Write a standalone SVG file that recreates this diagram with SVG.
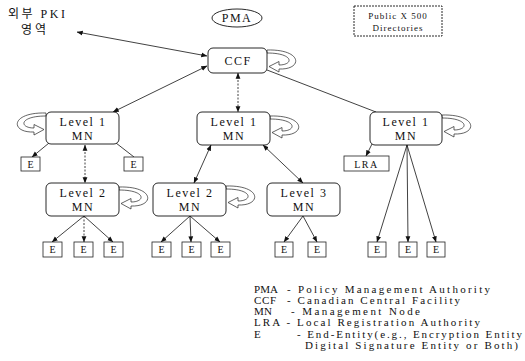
<svg xmlns="http://www.w3.org/2000/svg" width="525" height="361" viewBox="0 0 525 361">
<style>
.t{font-family:"Liberation Serif","Noto Sans CJK KR",serif;fill:#111;}
.n{font-size:12px;letter-spacing:1.5px;text-anchor:middle;}
.e{font-size:10px;text-anchor:middle;}
.lg{font-size:11px;}
.box{fill:#fff;stroke:#111;stroke-width:0.9;}
.eb{fill:#fff;stroke:#222;stroke-width:0.8;}
.c{stroke:#111;stroke-width:0.8;fill:none;}
.d{stroke-dasharray:2,1.5;}
.loop{fill:#fff;stroke:#222;stroke-width:0.7;}
</style>
<defs>
<marker id="a" viewBox="0 0 10 10" refX="9.5" refY="5" markerWidth="6" markerHeight="6" markerUnits="userSpaceOnUse" orient="auto-start-reverse">
<path d="M0,1 L10,5 L0,9 z" fill="#111"/>
</marker>
<path id="lp" d="M0,0 C36,-1 36,20 12,19 L12,22 L2,16.5 L12,11.5 L12,15 C27,15 27,3 0,3 Z"/>
</defs>
<rect width="525" height="361" fill="#fff"/>

<g id="connectors">
<line class="c" x1="207" y1="56" x2="77" y2="32" marker-start="url(#a)" marker-end="url(#a)"/>
<line class="c" x1="207" y1="66" x2="113" y2="112" marker-start="url(#a)" marker-end="url(#a)"/>
<line class="c d" x1="238" y1="73" x2="238" y2="112" marker-start="url(#a)" marker-end="url(#a)"/>
<line class="c" x1="267" y1="70" x2="376" y2="112"/>
<line class="c" x1="49" y1="143" x2="32" y2="157" marker-end="url(#a)"/>
<line class="c" x1="116" y1="143" x2="134" y2="157"/>
<line class="c d" x1="85" y1="145" x2="85" y2="183" marker-start="url(#a)" marker-end="url(#a)"/>
<line class="c" x1="211" y1="145" x2="194" y2="183" marker-start="url(#a)" marker-end="url(#a)"/>
<line class="c" x1="263" y1="145" x2="303" y2="183" marker-start="url(#a)" marker-end="url(#a)"/>
<line class="c" x1="372" y1="144" x2="366" y2="156" marker-end="url(#a)"/>
<line class="c" x1="407" y1="145" x2="377" y2="242" marker-end="url(#a)"/>
<line class="c" x1="407" y1="145" x2="408" y2="242" marker-end="url(#a)"/>
<line class="c" x1="407" y1="145" x2="436" y2="242" marker-end="url(#a)"/>
<line class="c" x1="84" y1="216" x2="52" y2="242" marker-end="url(#a)"/>
<line class="c d" x1="84" y1="216" x2="84" y2="242" marker-end="url(#a)"/>
<line class="c" x1="84" y1="216" x2="113" y2="242" marker-end="url(#a)"/>
<line class="c" x1="190" y1="216" x2="161" y2="242" marker-end="url(#a)"/>
<line class="c" x1="190" y1="216" x2="191" y2="242" marker-end="url(#a)"/>
<line class="c" x1="190" y1="216" x2="220" y2="242" marker-end="url(#a)"/>
<line class="c" x1="303" y1="216" x2="284" y2="242" marker-end="url(#a)"/>
<line class="c" x1="303" y1="216" x2="317" y2="242" marker-end="url(#a)"/>
<use href="#lp" class="loop" x="267" y="50"/>
<use href="#lp" class="loop" x="270" y="116"/>
<use href="#lp" class="loop" x="442" y="115"/>
<use href="#lp" class="loop" x="119" y="187"/>
<use href="#lp" class="loop" x="226" y="186"/>
<use href="#lp" class="loop" transform="translate(46,113) scale(-1,1)"/>
</g>

<g id="external">
<text class="t" x="8" y="18" font-size="12" letter-spacing="2.5">외부 PKI</text>
<text class="t" x="21" y="34" font-size="12" letter-spacing="3">영역</text>
</g>

<g id="pma">
<ellipse cx="237" cy="18" rx="25" ry="9" class="box"/>
<text class="t n" x="237" y="22" font-size="11">PMA</text>
</g>

<g id="x500">
<rect x="354" y="6" width="88" height="30" class="box" stroke-dasharray="2,1"/>
<text class="t" x="398" y="19" font-size="9" text-anchor="middle" letter-spacing="1">Public X 500</text>
<text class="t" x="398" y="31" font-size="9" text-anchor="middle" letter-spacing="1">Directories</text>
</g>

<g id="ccf">
<rect x="208" y="48" width="59" height="25" rx="5" class="box"/>
<text class="t n" x="238" y="65" letter-spacing="2">CCF</text>
</g>

<g id="l1left">
<rect x="46" y="112" width="73" height="32" rx="5" class="box"/>
<text class="t n" x="83" y="126">Level 1</text>
<text class="t n" x="83" y="140">MN</text>
</g>
<g id="l1mid">
<rect x="197" y="112" width="73" height="33" rx="5" class="box"/>
<text class="t n" x="234" y="126">Level 1</text>
<text class="t n" x="234" y="140">MN</text>
</g>
<g id="l1right">
<rect x="370" y="112" width="72" height="33" rx="5" class="box"/>
<text class="t n" x="406" y="126">Level 1</text>
<text class="t n" x="406" y="140">MN</text>
</g>
<g id="l2left">
<rect x="46" y="183" width="73" height="33" rx="5" class="box"/>
<text class="t n" x="83" y="197">Level 2</text>
<text class="t n" x="83" y="211">MN</text>
</g>
<g id="l2mid">
<rect x="153" y="183" width="73" height="33" rx="5" class="box"/>
<text class="t n" x="190" y="197">Level 2</text>
<text class="t n" x="190" y="211">MN</text>
</g>
<g id="l3">
<rect x="267" y="183" width="73" height="33" rx="5" class="box"/>
<text class="t n" x="304" y="197">Level 3</text>
<text class="t n" x="304" y="211">MN</text>
</g>
<g id="lra">
<rect x="344" y="156" width="45" height="15" class="eb"/>
<text class="t e" x="366.5" y="167.5" letter-spacing="1.5">LRA</text>
</g>

<g id="e1"><rect x="21" y="157" width="19" height="14" class="eb"/><text class="t e" x="30.5" y="168">E</text></g>
<g id="e2"><rect x="124" y="157" width="19" height="14" class="eb"/><text class="t e" x="133.5" y="168">E</text></g>
<g id="e3"><rect x="43" y="242" width="19" height="15" class="eb"/><text class="t e" x="52.5" y="253">E</text></g>
<g id="e4"><rect x="74" y="242" width="19" height="15" class="eb"/><text class="t e" x="83.5" y="253">E</text></g>
<g id="e5"><rect x="104" y="242" width="19" height="15" class="eb"/><text class="t e" x="113.5" y="253">E</text></g>
<g id="e6"><rect x="152" y="242" width="19" height="15" class="eb"/><text class="t e" x="161.5" y="253">E</text></g>
<g id="e7"><rect x="182" y="242" width="19" height="15" class="eb"/><text class="t e" x="191.5" y="253">E</text></g>
<g id="e8"><rect x="211" y="242" width="19" height="15" class="eb"/><text class="t e" x="220.5" y="253">E</text></g>
<g id="e9"><rect x="275" y="242" width="18" height="15" class="eb"/><text class="t e" x="284" y="253">E</text></g>
<g id="e10"><rect x="308" y="242" width="18" height="15" class="eb"/><text class="t e" x="317" y="253">E</text></g>
<g id="e11"><rect x="368" y="242" width="18" height="15" class="eb"/><text class="t e" x="377" y="253">E</text></g>
<g id="e12"><rect x="399" y="242" width="18" height="15" class="eb"/><text class="t e" x="408" y="253">E</text></g>
<g id="e13"><rect x="427" y="242" width="18" height="15" class="eb"/><text class="t e" x="436" y="253">E</text></g>

<g id="legend">
<text class="t lg" x="254" y="293" textLength="24" lengthAdjust="spacing">PMA</text>
<text class="t lg" x="287" y="293" textLength="203" lengthAdjust="spacing">- Policy Management Authority</text>
<text class="t lg" x="254" y="304" textLength="22" lengthAdjust="spacing">CCF</text>
<text class="t lg" x="287" y="304" textLength="173" lengthAdjust="spacing">- Canadian Central Facility</text>
<text class="t lg" x="254" y="315" textLength="18" lengthAdjust="spacing">MN</text>
<text class="t lg" x="291" y="315" textLength="129" lengthAdjust="spacing">- Management Node</text>
<text class="t lg" x="254" y="326" textLength="226" lengthAdjust="spacing">LRA - Local Registration Authority</text>
<text class="t lg" x="254" y="338">E</text>
<text class="t lg" x="297" y="338" textLength="225" lengthAdjust="spacing">- End-Entity(e.g., Encryption Entity</text>
<text class="t lg" x="305" y="349" textLength="213" lengthAdjust="spacing">Digital Signature Entity or Both)</text>
</g>
</svg>
